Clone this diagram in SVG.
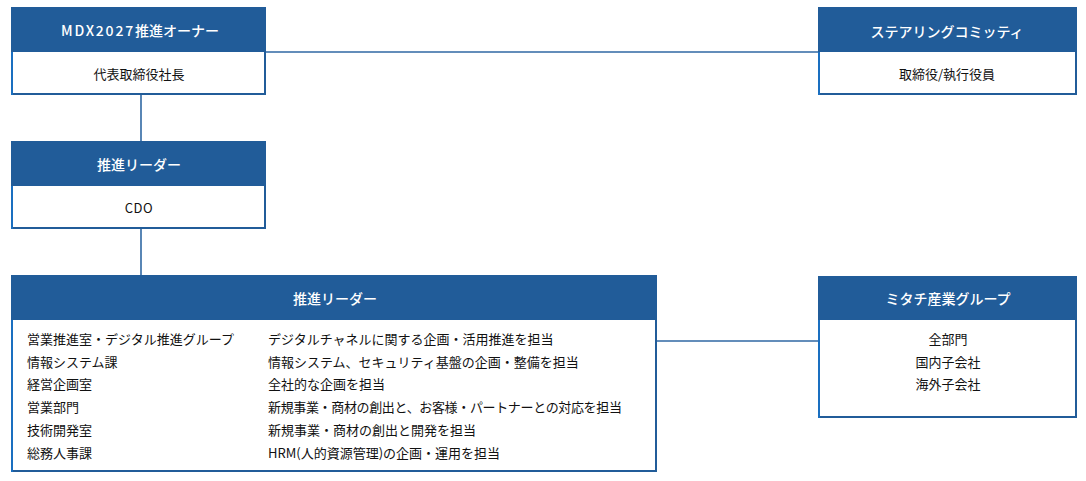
<svg xmlns="http://www.w3.org/2000/svg" width="1086" height="481" viewBox="0 0 1086 481">
<style>
.box{fill:#ffffff;stroke:#215c99;stroke-width:2}
.lb{stroke:#1a6fc0;stroke-width:2}
.hd{fill:#215c99}
.ht{font-family:"Noto Sans CJK JP","Noto Sans",sans-serif;font-size:14px;font-weight:500;fill:#ffffff;text-anchor:middle;dominant-baseline:central}
.bt{font-family:"Noto Sans CJK JP","Noto Sans",sans-serif;font-size:13px;fill:#111111;dominant-baseline:central}
.c{text-anchor:middle}
.conn{stroke:#2f67a3;stroke-width:1.6;fill:none}
</style>
<rect width="1086" height="481" fill="#ffffff"/>
<g id="connectors">
<line class="conn" x1="265" y1="52" x2="819" y2="52"/>
<line class="conn" x1="141" y1="94" x2="141" y2="142"/>
<line class="conn" x1="141" y1="228" x2="141" y2="276"/>
<line class="conn" x1="656" y1="341" x2="819" y2="341"/>
</g>
<g id="owner">
<rect class="box" x="12" y="8" width="253" height="86"/>
<rect class="hd" x="11" y="7" width="255" height="45"/>
<line class="lb" x1="12" y1="52" x2="12" y2="95"/>
<text class="ht" x="140" y="30"><tspan letter-spacing="1.8">MDX2027</tspan>推進オーナー</text>
<text class="bt c" x="139" y="73">代表取締役社長</text>
</g>
<g id="steering">
<rect class="box" x="819" y="8" width="257" height="86"/>
<rect class="hd" x="818" y="7" width="259" height="45"/>
<line class="lb" x1="819" y1="52" x2="819" y2="95"/>
<text class="ht" x="947" y="31">ステアリングコミッティ</text>
<text class="bt c" x="947" y="73">取締役/執行役員</text>
</g>
<g id="leader">
<rect class="box" x="12" y="142" width="253" height="86"/>
<rect class="hd" x="11" y="141" width="255" height="45"/>
<line class="lb" x1="12" y1="186" x2="12" y2="229"/>
<text class="ht" x="139" y="164">推進リーダー</text>
<text class="bt c" x="139" y="207" font-size="14" letter-spacing="0.5">CDO</text>
</g>
<g id="promoters">
<rect class="box" x="12" y="276" width="644" height="195"/>
<rect class="hd" x="11" y="275" width="646" height="45"/>
<line class="lb" x1="12" y1="320" x2="12" y2="472"/>
<text class="ht" x="335" y="298">推進リーダー</text>
<text class="bt" x="27" y="338">営業推進室・デジタル推進グループ</text>
<text class="bt" x="27" y="361">情報システム課</text>
<text class="bt" x="27" y="383">経営企画室</text>
<text class="bt" x="27" y="406">営業部門</text>
<text class="bt" x="27" y="429">技術開発室</text>
<text class="bt" x="27" y="452">総務人事課</text>
<text class="bt" x="268" y="338">デジタルチャネルに関する企画・活用推進を担当</text>
<text class="bt" x="268" y="361">情報システム、セキュリティ基盤の企画・整備を担当</text>
<text class="bt" x="268" y="383">全社的な企画を担当</text>
<text class="bt" x="268" y="406" letter-spacing="-0.35">新規事業・商材の創出と、お客様・パートナーとの対応を担当</text>
<text class="bt" x="268" y="429">新規事業・商材の創出と開発を担当</text>
<text class="bt" x="268" y="452">HRM(人的資源管理)の企画・運用を担当</text>
</g>
<g id="group">
<rect class="box" x="819" y="277" width="257" height="140"/>
<rect class="hd" x="818" y="276" width="259" height="44"/>
<line class="lb" x1="819" y1="320" x2="819" y2="418"/>
<text class="ht" x="948" y="298">ミタチ産業グループ</text>
<text class="bt c" x="948" y="338">全部門</text>
<text class="bt c" x="948" y="361">国内子会社</text>
<text class="bt c" x="948" y="383">海外子会社</text>
</g>
</svg>
